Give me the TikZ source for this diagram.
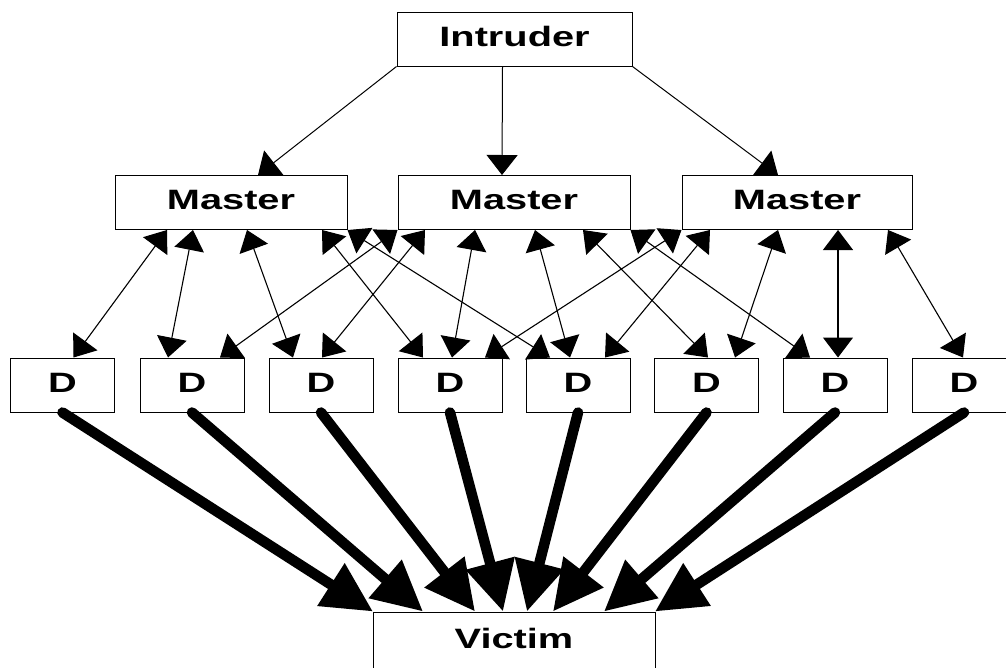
\documentclass[tikz,border=0pt]{standalone}
\usepackage{fontspec}
\setmainfont{Liberation Sans}[FakeStretch=1.42]
\usetikzlibrary{arrows.meta}
\begin{document}
\begin{tikzpicture}[x=1pt,y=-1pt,
  box/.style={draw,line width=1pt,inner sep=0pt,minimum height=54pt,
    text height=20pt,text depth=6pt,font=\fontsize{28}{30}\selectfont\bfseries},
  dbox/.style={box,minimum width=104pt},
  onearrow/.style={line width=1pt,-{Triangle[length=20pt,width=31pt]}},
  dblarrow/.style={line width=1.1pt,{Triangle[length=20pt,width=30pt]}-{Triangle[length=20pt,width=30pt]}},
  bigarrow/.style={line width=10.5pt,line cap=round,-{Triangle[length=50pt,width=48pt]}}]
\useasboundingbox (0,0) rectangle (1006,667);

\node[box,minimum width=235pt] (intr) at (514.5,39) {Intruder};
\node[box,minimum width=232pt] (m1) at (231,202.5) {Master};
\node[box,minimum width=232pt] (m2) at (514,202.5) {Master};
\node[box,minimum width=230pt] (m3) at (797,202.5) {Master};

\node[dbox] (d1) at (62.5,385) {D};
\node[dbox] (d2) at (192,385) {D};
\node[dbox] (d3) at (321,385) {D};
\node[dbox] (d4) at (450,385) {D};
\node[dbox] (d5) at (578,385) {D};
\node[dbox] (d6) at (706.5,385) {D};
\node[dbox] (d7) at (835,385) {D};
\node[dbox] (d8) at (964,385) {D};

\node[box,minimum width=282pt,minimum height=58pt] (vic) at (514,641) {Victim};

% Intruder to masters
\draw[onearrow] (intr.south west) -- ([xshift=27pt]m1.north);
\draw[onearrow] ([xshift=-12pt]intr.south) -- ([xshift=-12pt]m2.north);
\draw[onearrow] (intr.south east) -- ([xshift=-19pt]m3.north);

% Masters <-> daemons
\draw[dblarrow] ([xshift=-64pt]m1.south) -- ([xshift=11pt]d1.north);
\draw[dblarrow] ([xshift=-38pt]m1.south) -- ([xshift=-24pt]d2.north);
\draw[dblarrow] ([xshift=16pt]m1.south) -- ([xshift=-28pt]d3.north);
\draw[dblarrow] ([xshift=91pt]m1.south) -- ([xshift=-27pt]d4.north);
\draw[dblarrow] (m1.south east) -- ([xshift=-28pt]d5.north);
\draw[dblarrow] (m2.south west) -- ([xshift=28pt]d2.north);
\draw[dblarrow] ([xshift=-89pt]m2.south) -- ([xshift=1pt]d3.north);
\draw[dblarrow] ([xshift=-39pt]m2.south) -- ([xshift=2pt]d4.north);
\draw[dblarrow] ([xshift=21pt]m2.south) -- ([xshift=-8pt]d5.north);
\draw[dblarrow] ([xshift=69pt]m2.south) -- ([xshift=1.5pt]d6.north);
\draw[dblarrow] (m2.south east) -- ([xshift=-25pt]d7.north);
\draw[dblarrow] (m3.south west) -- ([xshift=35pt]d4.north);
\draw[dblarrow] ([xshift=-87pt]m3.south) -- ([xshift=27pt]d5.north);
\draw[dblarrow] ([xshift=-19pt]m3.south) -- ([xshift=28.5pt]d6.north);
\draw[dblarrow] ([xshift=41pt]m3.south) -- ([xshift=3pt]d7.north);
\draw[dblarrow] ([xshift=91pt]m3.south) -- ([xshift=-1pt]d8.north);

% Daemons to victim
\draw[bigarrow] (d1.south) -- ([xshift=-141pt]vic.north);
\draw[bigarrow] (d2.south) -- ([xshift=-91pt]vic.north);
\draw[bigarrow] (d3.south) -- ([xshift=-39pt]vic.north);
\draw[bigarrow] (d4.south) -- ([xshift=-11pt]vic.north);
\draw[bigarrow] (d5.south) -- ([xshift=13pt]vic.north);
\draw[bigarrow] (d6.south) -- ([xshift=39pt]vic.north);
\draw[bigarrow] (d7.south) -- ([xshift=90pt]vic.north);
\draw[bigarrow] (d8.south) -- ([xshift=141pt]vic.north);
\end{tikzpicture}
\end{document}
